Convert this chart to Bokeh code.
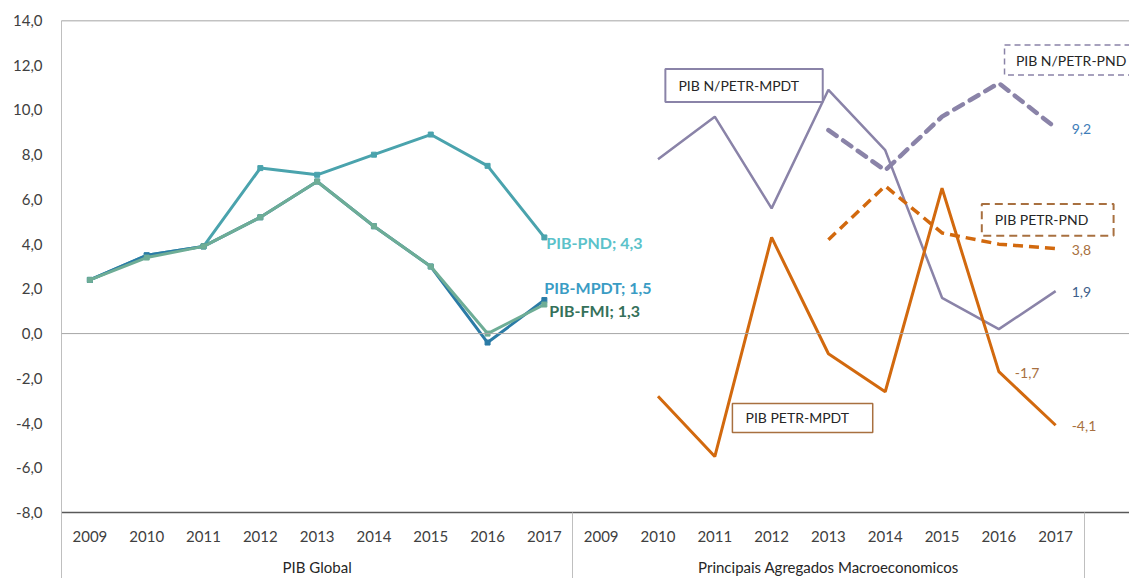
from bokeh.plotting import figure
from bokeh.models import Range1d, FixedTicker, LinearAxis, Span, CustomJSTickFormatter
from bokeh.core.properties import value
from bokeh.embed import file_html
from bokeh.resources import INLINE

# ---------------- data ----------------
groups = ["PIB Global", "Principais Agregados Macroeconomicos"]
years = ["2009", "2010", "2011", "2012", "2013", "2014", "2015", "2016", "2017"]

# PIB Global
pib_pnd = [2.4, 3.5, 3.9, 7.4, 7.1, 8.0, 8.9, 7.5, 4.3]
pib_mpdt = [2.4, 3.5, 3.9, 5.2, 6.8, 4.8, 3.0, -0.4, 1.5]
pib_fmi = [2.4, 3.4, 3.9, 5.2, 6.8, 4.8, 3.0, 0.0, 1.3]

# Principais Agregados Macroeconomicos
mpdt_years = ["2010", "2011", "2012", "2013", "2014", "2015", "2016", "2017"]
npetr_mpdt = [7.8, 9.7, 5.6, 10.9, 8.2, 1.6, 0.2, 1.9]
petr_mpdt = [-2.8, -5.5, 4.3, -0.9, -2.6, 6.5, -1.7, -4.1]
pnd_years = ["2013", "2014", "2015", "2016", "2017"]
npetr_pnd = [9.1, 7.3, 9.7, 11.2, 9.2]
petr_pnd = [4.2, 6.6, 4.5, 4.0, 3.8]

y_ticks = [-8, -6, -4, -2, 0, 2, 4, 6, 8, 10, 12, 14]


def pos(group, yrs):
    g = groups.index(group)
    return [g * len(years) + years.index(y) + 0.5 for y in yrs]


def fmt(v):
    return f"{v:.1f}".replace(".", ",")


FONT = value("Lato")
n_slots = len(groups) * len(years)

p = figure(width=1129, height=578, output_backend="svg", toolbar_location=None,
           x_range=Range1d(0, 18.80), y_range=Range1d(-8, 14),
           min_border_left=61, min_border_right=0, min_border_top=20,
           min_border_bottom=64, x_axis_type=None)
p.outline_line_color = None
p.xgrid.visible = False
p.ygrid.visible = False
p.background_fill_color = "white"

# y axis
p.yaxis.ticker = FixedTicker(ticks=y_ticks)
p.yaxis.formatter = CustomJSTickFormatter(code="return tick.toFixed(1).replace('.', ',');")
p.yaxis.axis_line_color = "#BFBFBF"
p.yaxis.major_tick_line_color = None
p.yaxis.minor_tick_line_color = None
p.yaxis.major_label_standoff = 13
p.yaxis.major_label_text_font = "Lato"
p.yaxis.major_label_text_font_size = "15px"
p.yaxis.major_label_text_color = "#404040"

# x axis: years + group separators
ax1 = LinearAxis(ticker=FixedTicker(ticks=[i + 0.5 for i in range(n_slots)],
                                    minor_ticks=[0, len(years), n_slots]))
ax1.formatter = CustomJSTickFormatter(args=dict(labels=years),
                                      code="return labels[Math.floor(tick) % labels.length];")
ax1.axis_line_color = "#595959"
ax1.axis_line_width = 1.5
ax1.major_tick_line_color = None
ax1.major_tick_out = 0
ax1.major_tick_in = 0
ax1.minor_tick_out = 66
ax1.minor_tick_in = 0
ax1.minor_tick_line_color = "#BFBFBF"
ax1.major_label_standoff = -48
ax1.major_label_text_font = "Lato"
ax1.major_label_text_font_size = "15px"
ax1.major_label_text_color = "#404040"
p.add_layout(ax1, "below")

ax2 = LinearAxis(ticker=FixedTicker(ticks=[len(years) * (g + 0.5) for g in range(len(groups))]))
ax2.formatter = CustomJSTickFormatter(args=dict(labels=groups, n=len(years)),
                                      code="return labels[Math.floor(tick / n)];")
ax2.axis_line_color = None
ax2.major_tick_line_color = None
ax2.minor_tick_line_color = None
ax2.major_tick_out = 0
ax2.major_label_standoff = 13
ax2.major_label_text_font = "Lato"
ax2.major_label_text_font_size = "15px"
ax2.major_label_text_color = "#262626"
p.add_layout(ax2, "below")

# reference lines
p.add_layout(Span(location=14, dimension="width", line_color="#868686", line_width=1.5))
p.add_layout(Span(location=0, dimension="width", line_color="#A6A6A6", line_width=1))

# ---------------- PIB Global ----------------
C_PND = "#4AA3AD"
C_MPDT = "#2B7BA6"
C_FMI = "#6EAD96"
xg = pos("PIB Global", years)
for vals, col in [(pib_pnd, C_PND), (pib_mpdt, C_MPDT), (pib_fmi, C_FMI)]:
    p.line(xg, vals, line_color=col, line_width=3)
    p.scatter(xg, vals, marker="square", size=5, fill_color=col, line_color=col)

lbls = [("PIB-PND", pib_pnd, "#5BC2CA", 2, 5),
        ("PIB-MPDT", pib_mpdt, "#3A9CC4", 0, -13),
        ("PIB-FMI", pib_fmi, "#35715A", 5, 6)]
for name, vals, col, dx, dy in lbls:
    p.text(x=[xg[-1]], y=[vals[-1]], text=[f"{name}; {fmt(vals[-1])}"],
           x_offset=dx, y_offset=dy, text_baseline="middle", text_align="left",
           text_font=FONT, text_font_style="bold", text_font_size="16px", text_color=col)

# ---------------- Agregados ----------------
G2 = "Principais Agregados Macroeconomicos"
C_NP = "#8A83A8"
C_OR = "#D2690E"
C_BR = "#A87040"
x_m = pos(G2, mpdt_years)
x_p = pos(G2, pnd_years)

p.line(x_m, npetr_mpdt, line_color=C_NP, line_width=2.5)
p.line(x_m, petr_mpdt, line_color=C_OR, line_width=3)
p.line(x_p, npetr_pnd, line_color=C_NP, line_width=4.5, line_dash="10 8", line_cap="round")
p.line(x_p, petr_pnd, line_color=C_OR, line_width=3.5, line_dash="10 6")

val_lbls = [(x_p[-1], npetr_pnd[-1], "#3E7DB8"),
            (x_p[-1], petr_pnd[-1], C_BR),
            (x_m[-1], npetr_mpdt[-1], "#3C5E8A"),
            (x_m[-2], petr_mpdt[-2], C_BR),
            (x_m[-1], petr_mpdt[-1], C_BR)]
for x, v, col in val_lbls:
    p.text(x=[x], y=[v], text=[fmt(v)], x_offset=16, y_offset=1,
           text_baseline="middle", text_align="left",
           text_font=FONT, text_font_size="14px", text_color=col)

# annotation boxes (left, right, top, bottom, text x, text y, colour, dash, width)
boxes = [("PIB N/PETR-MPDT", 10.63, 13.40, 11.83, 10.36, 10.86, 11.09, C_NP, "solid", 2),
         ("PIB N/PETR-PND", 16.60, 19.5, 12.90, 11.56, 16.80, 12.23, C_NP, "6 4", 1.5),
         ("PIB PETR-PND", 16.20, 18.52, 5.80, 4.375, 16.43, 5.09, C_BR, "8 5", 2),
         ("PIB PETR-MPDT", 11.81, 14.28, -3.125, -4.42, 12.04, -3.77, C_BR, "solid", 1.5)]
for txt, l, r, t, b, tx, ty, col, dash, lw in boxes:
    p.quad(left=[l], right=[r], top=[t], bottom=[b], fill_color="white",
           line_color=col, line_dash=dash, line_width=lw)
    p.text(x=[tx], y=[ty], text=[txt], text_baseline="middle", text_align="left",
           text_font=FONT, text_font_size="14px", text_color="#262626")

open("out.html", "w").write(file_html(p, INLINE))
